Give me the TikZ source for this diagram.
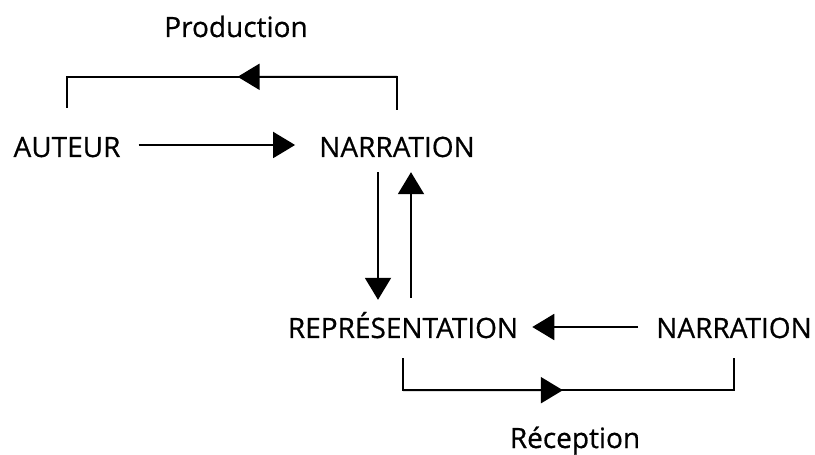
\documentclass[tikz,border=0pt]{standalone}
\usepackage{fontspec}
\setmainfont{Open Sans}
\newfontfamily\lblfont{Open Sans}[FakeBold=0.6]
\usetikzlibrary{arrows.meta,calc}
\begin{document}
\begin{tikzpicture}[x=1bp,y=-1bp,
  lbl/.style={inner sep=0pt, anchor=base, font=\lblfont\fontsize{28bp}{34bp}\selectfont, text height=20bp, text depth=0pt},
  line/.style={line width=2bp, black},
  arr/.style={line, -{Triangle[length=22bp,width=26bp]}}]
\useasboundingbox (0,0) rectangle (815,455);

\node[lbl] (prod) at (236,37) {Production};
\node[lbl] (aut)  at (67,157) {AUTEUR};
\node[lbl] (nar1) at (397,157) {NARRATION};
\node[lbl] (rep)  at (403,338) {REPRÉSENTATION};
\node[lbl] (nar2) at (734,338) {NARRATION};
\node[lbl] (rec)  at (575,448) {Réception};

% AUTEUR -> NARRATION
\draw[arr, shorten <=18bp, shorten >=24bp] ($(aut.east)+(0,-2)$) -- ($(nar1.west)+(0,-2)$);

% Production bracket
\coordinate (pa) at ($(aut.north)+(0,-29)$);
\coordinate (pb) at ($(nar1.north)+(0,-27)$);
\coordinate (pL) at ($(pa)+(0,-31)$);
\draw[line] (pa) -- (pL) -| (pb);
\draw[arr] (pL -| pb) -- ($(pL)!0.517!(pL -| pb)$);

% NARRATION <-> REPRESENTATION
\coordinate (d1) at ($(nar1.south)+(-19,15)$);
\draw[arr, shorten >=18bp] (d1) -- (d1 |- rep.north);
\coordinate (u1) at ($(rep.north)+(8,-20)$);
\draw[arr, shorten >=15bp] (u1) -- (u1 |- nar1.south);

% NARRATION -> REPRESENTATION
\draw[arr, shorten <=18bp, shorten >=14bp] ($(nar2.west)+(0,-1)$) -- ($(rep.east)+(0,-1)$);

% Reception bracket
\coordinate (ra) at ($(rep.south)+(0,20)$);
\coordinate (rb) at ($(nar2.south)+(0,20)$);
\coordinate (rL) at ($(ra)+(0,32)$);
\draw[line] (ra) -- (rL) -| (rb);
\draw[arr] (rL) -- ($(rL)!0.483!(rL -| rb)$);
\end{tikzpicture}
\end{document}
